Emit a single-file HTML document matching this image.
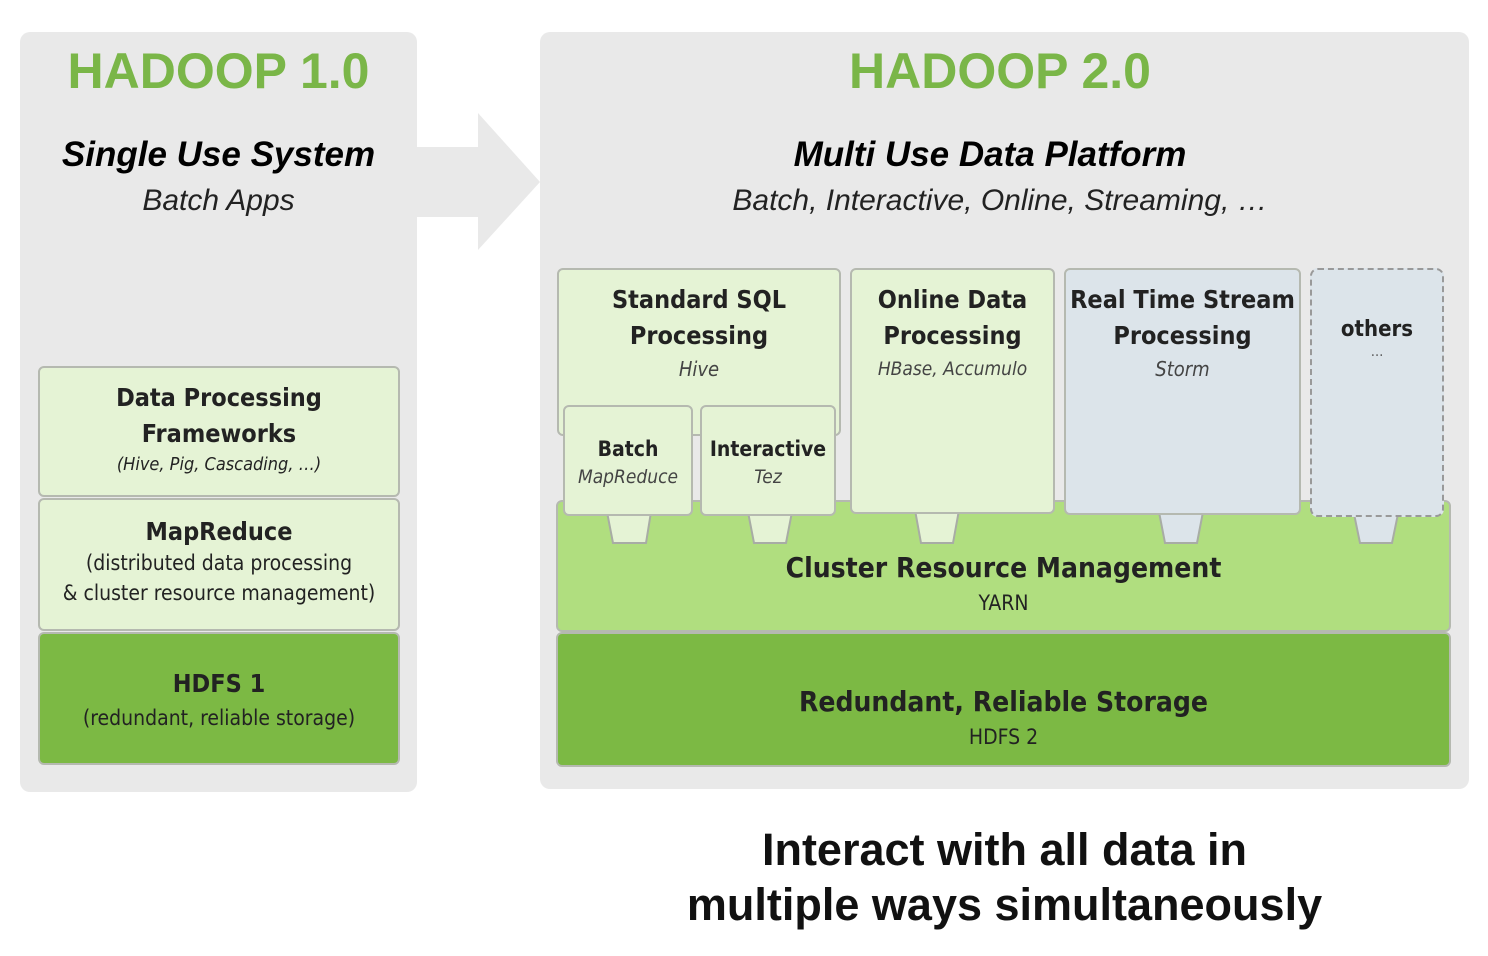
<!DOCTYPE html>
<html><head><style>
body{margin:0;width:1488px;height:956px;background:#fff;position:relative;overflow:hidden;font-family:"Liberation Sans",sans-serif}
.a{position:absolute;box-sizing:border-box;text-align:center}
.box{border:2px solid #b5b9b0;border-radius:6px;color:#222}
.lt{background:#e5f3d5}
.dk{background:#7cb944}
.t{font-family:"DejaVu Sans Condensed","Liberation Sans",sans-serif;color:#222}
</style></head><body>
<div class="a" style="left:20px;top:32px;width:397px;height:760px;background:#e9e9e9;border-radius:10px"></div>
<div class="a" style="left:540px;top:32px;width:929px;height:757px;background:#e9e9e9;border-radius:10px"></div>
<svg class="a" style="left:0;top:0" width="1488" height="956"><polygon points="416,147 478,147 478,113 540,182 478,250 478,217 416,217" fill="#e9e9e9"/></svg>
<div class="a" style="left:20px;top:42px;width:397px;font-size:50px;font-weight:bold;color:#7ab648">HADOOP 1.0</div>
<div class="a" style="left:20px;top:135px;width:397px;font-size:35px;font-weight:bold;font-style:italic">Single Use System</div>
<div class="a" style="left:20px;top:184px;width:397px;font-size:30px;font-style:italic;color:#222">Batch Apps</div>
<div class="a" style="left:540px;top:42px;width:920px;font-size:50px;font-weight:bold;color:#7ab648">HADOOP 2.0</div>
<div class="a" style="left:540px;top:135px;width:900px;font-size:35px;font-weight:bold;font-style:italic">Multi Use Data Platform</div>
<div class="a" style="left:540px;top:184px;width:920px;font-size:30px;font-style:italic;color:#222">Batch, Interactive, Online, Streaming, …</div>

<div class="a box lt t" style="left:38px;top:366px;width:362px;height:131px;padding-top:12px;font-size:25px;font-weight:bold;line-height:36px">Data Processing<br>Frameworks<div style="font-size:18px;font-weight:normal;font-style:italic;line-height:26px">(Hive, Pig, Cascading, …)</div></div>
<div class="a box lt t" style="left:38px;top:498px;width:362px;height:133px;padding-top:16px;font-size:25px;font-weight:bold;line-height:32px">MapReduce<div style="font-size:21px;font-weight:normal;line-height:30px">(distributed data processing<br>&amp; cluster resource management)</div></div>
<div class="a box dk t" style="left:38px;top:632px;width:362px;height:133px;padding-top:33px;font-size:25px;font-weight:bold;line-height:34px">HDFS 1<div style="font-size:21px;font-weight:normal;line-height:34px">(redundant, reliable storage)</div></div>

<div class="a box t" style="left:556px;top:500px;width:895px;height:132px;background:#b0de7f;padding-top:48px;font-size:28px;font-weight:bold;line-height:36px">Cluster Resource Management<div style="font-size:21px;font-weight:normal;line-height:34px">YARN</div></div>
<div class="a box dk t" style="left:556px;top:632px;width:895px;height:135px;padding-top:50px;font-size:28px;font-weight:bold;line-height:36px">Redundant, Reliable Storage<div style="font-size:21px;font-weight:normal;line-height:34px">HDFS 2</div></div>

<svg class="a" style="left:0;top:0" width="1488" height="956">
<g stroke="#a8aca5" stroke-width="2">
<polygon points="607,512 651,512 646,543 613,543" fill="#e5f3d5"/>
<polygon points="748,512 792,512 786,543 754,543" fill="#e5f3d5"/>
<polygon points="915,510 959,510 953,543 921,543" fill="#e5f3d5"/>
<polygon points="1159,512 1203,512 1197,543 1165,543" fill="#dce4ea"/>
<polygon points="1354,514 1398,514 1392,543 1360,543" fill="#dce4ea"/>
</g></svg>

<div class="a box lt t" style="left:557px;top:268px;width:284px;height:168px;padding-top:12px;font-size:25px;font-weight:bold;line-height:36px">Standard SQL<br>Processing<div style="font-size:20px;font-weight:normal;font-style:italic;line-height:30px;color:#444">Hive</div></div>
<div class="a box lt t" style="left:563px;top:405px;width:130px;height:111px;padding-top:28px;font-size:21px;font-weight:bold;line-height:28px">Batch<div style="font-size:19px;font-weight:normal;font-style:italic;color:#444">MapReduce</div></div>
<div class="a box lt t" style="left:700px;top:405px;width:136px;height:111px;padding-top:28px;font-size:21px;font-weight:bold;line-height:28px">Interactive<div style="font-size:19px;font-weight:normal;font-style:italic;color:#444">Tez</div></div>
<div class="a box lt t" style="left:850px;top:268px;width:205px;height:246px;padding-top:12px;font-size:25px;font-weight:bold;line-height:36px">Online Data<br>Processing<div style="font-size:19px;font-weight:normal;font-style:italic;line-height:30px;color:#444">HBase, Accumulo</div></div>
<div class="a box t" style="left:1064px;top:268px;width:237px;height:247px;background:#dce4ea;padding-top:12px;font-size:25px;font-weight:bold;line-height:36px">Real Time Stream<br>Processing<div style="font-size:20px;font-weight:normal;font-style:italic;line-height:30px;color:#444">Storm</div></div>
<div class="a t" style="left:1310px;top:268px;width:134px;height:249px;background:#dce4ea;border:2px dashed #999;border-radius:8px;padding-top:45px;font-size:22px;font-weight:bold;line-height:30px">others<div style="font-size:14px;font-weight:normal;line-height:14px;color:#555">…</div></div>

<div class="a" style="left:540px;top:822px;width:929px;font-size:45px;font-weight:bold;line-height:55px;color:#111">Interact with all data in<br>multiple ways simultaneously</div>
</body></html>
